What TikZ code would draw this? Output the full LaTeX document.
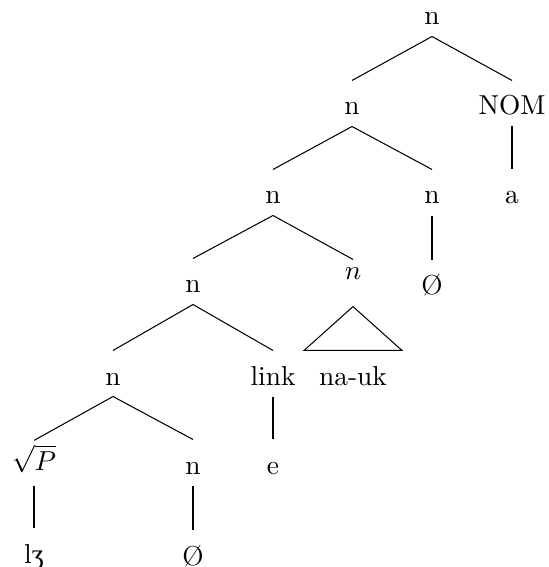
\documentclass[tikz,border=0pt]{standalone}
\usepackage{fontspec}
\newfontfamily\ipafont{Liberation Serif}
\usetikzlibrary{calc}
\begin{document}
\begin{tikzpicture}[x=0.365pt,y=-0.365pt,
  lbl/.style={anchor=base, inner sep=0pt, text height=12.4pt, text depth=4.0pt, font=\fontsize{10}{12}\selectfont},
  edge/.style={line width=0.38pt}]
\useasboundingbox (0,0) rectangle (548,567);
\node[lbl] (r) at (432,25) {n};
\node[lbl] (a1) at (352,115) {n};
\node[lbl] (nom) at (512,115) {NOM};
\node[lbl] (a2) at (273,204) {n};
\node[lbl] (b2) at (432,204) {n};
\node[lbl] (av) at (512,204) {a};
\node[lbl] (a3) at (193,293) {n};
\node[lbl, text height=7.3pt, text depth=9.5pt] (nit) at (353,280) {$n$};
\node[lbl] (o1) at (432,295) {Ø};
\node[lbl] (a4) at (113,385) {n};
\node[lbl] (link) at (273,385) {link};
\node[lbl] (nauk) at (353,385) {na-uk};
\node[lbl, text height=10.6pt, text depth=5.5pt] (sp) at (34,470) {$\sqrt{P}$};
\node[lbl] (a5) at (193,474) {n};
\node[lbl] (e) at (273,474) {e};
\node[lbl] (lz) at (34,563) {l{\ipafont ʒ}};
\node[lbl] (o2) at (193,565) {Ø};
\draw[edge] (r.south) -- (a1.north);
\draw[edge] (r.south) -- (nom.north);
\draw[edge] (nom.south) -- (av.north);
\draw[edge] (a1.south) -- (a2.north);
\draw[edge] (a1.south) -- (b2.north);
\draw[edge] (b2.south) -- (o1.north);
\draw[edge] (a2.south) -- (a3.north);
\draw[edge] (a2.south) -- (nit.north);
\draw[edge] (nit.south) -- ($(nauk.north)+(-49,0)$) -- ($(nauk.north)+(49,0)$) -- cycle;
\draw[edge] (a3.south) -- (a4.north);
\draw[edge] (a3.south) -- (link.north);
\draw[edge] (link.south) -- (e.north);
\draw[edge] (a4.south) -- (sp.north);
\draw[edge] (a4.south) -- (a5.north);
\draw[edge] (sp.south) -- (lz.north);
\draw[edge] (a5.south) -- (o2.north);
\end{tikzpicture}
\end{document}
